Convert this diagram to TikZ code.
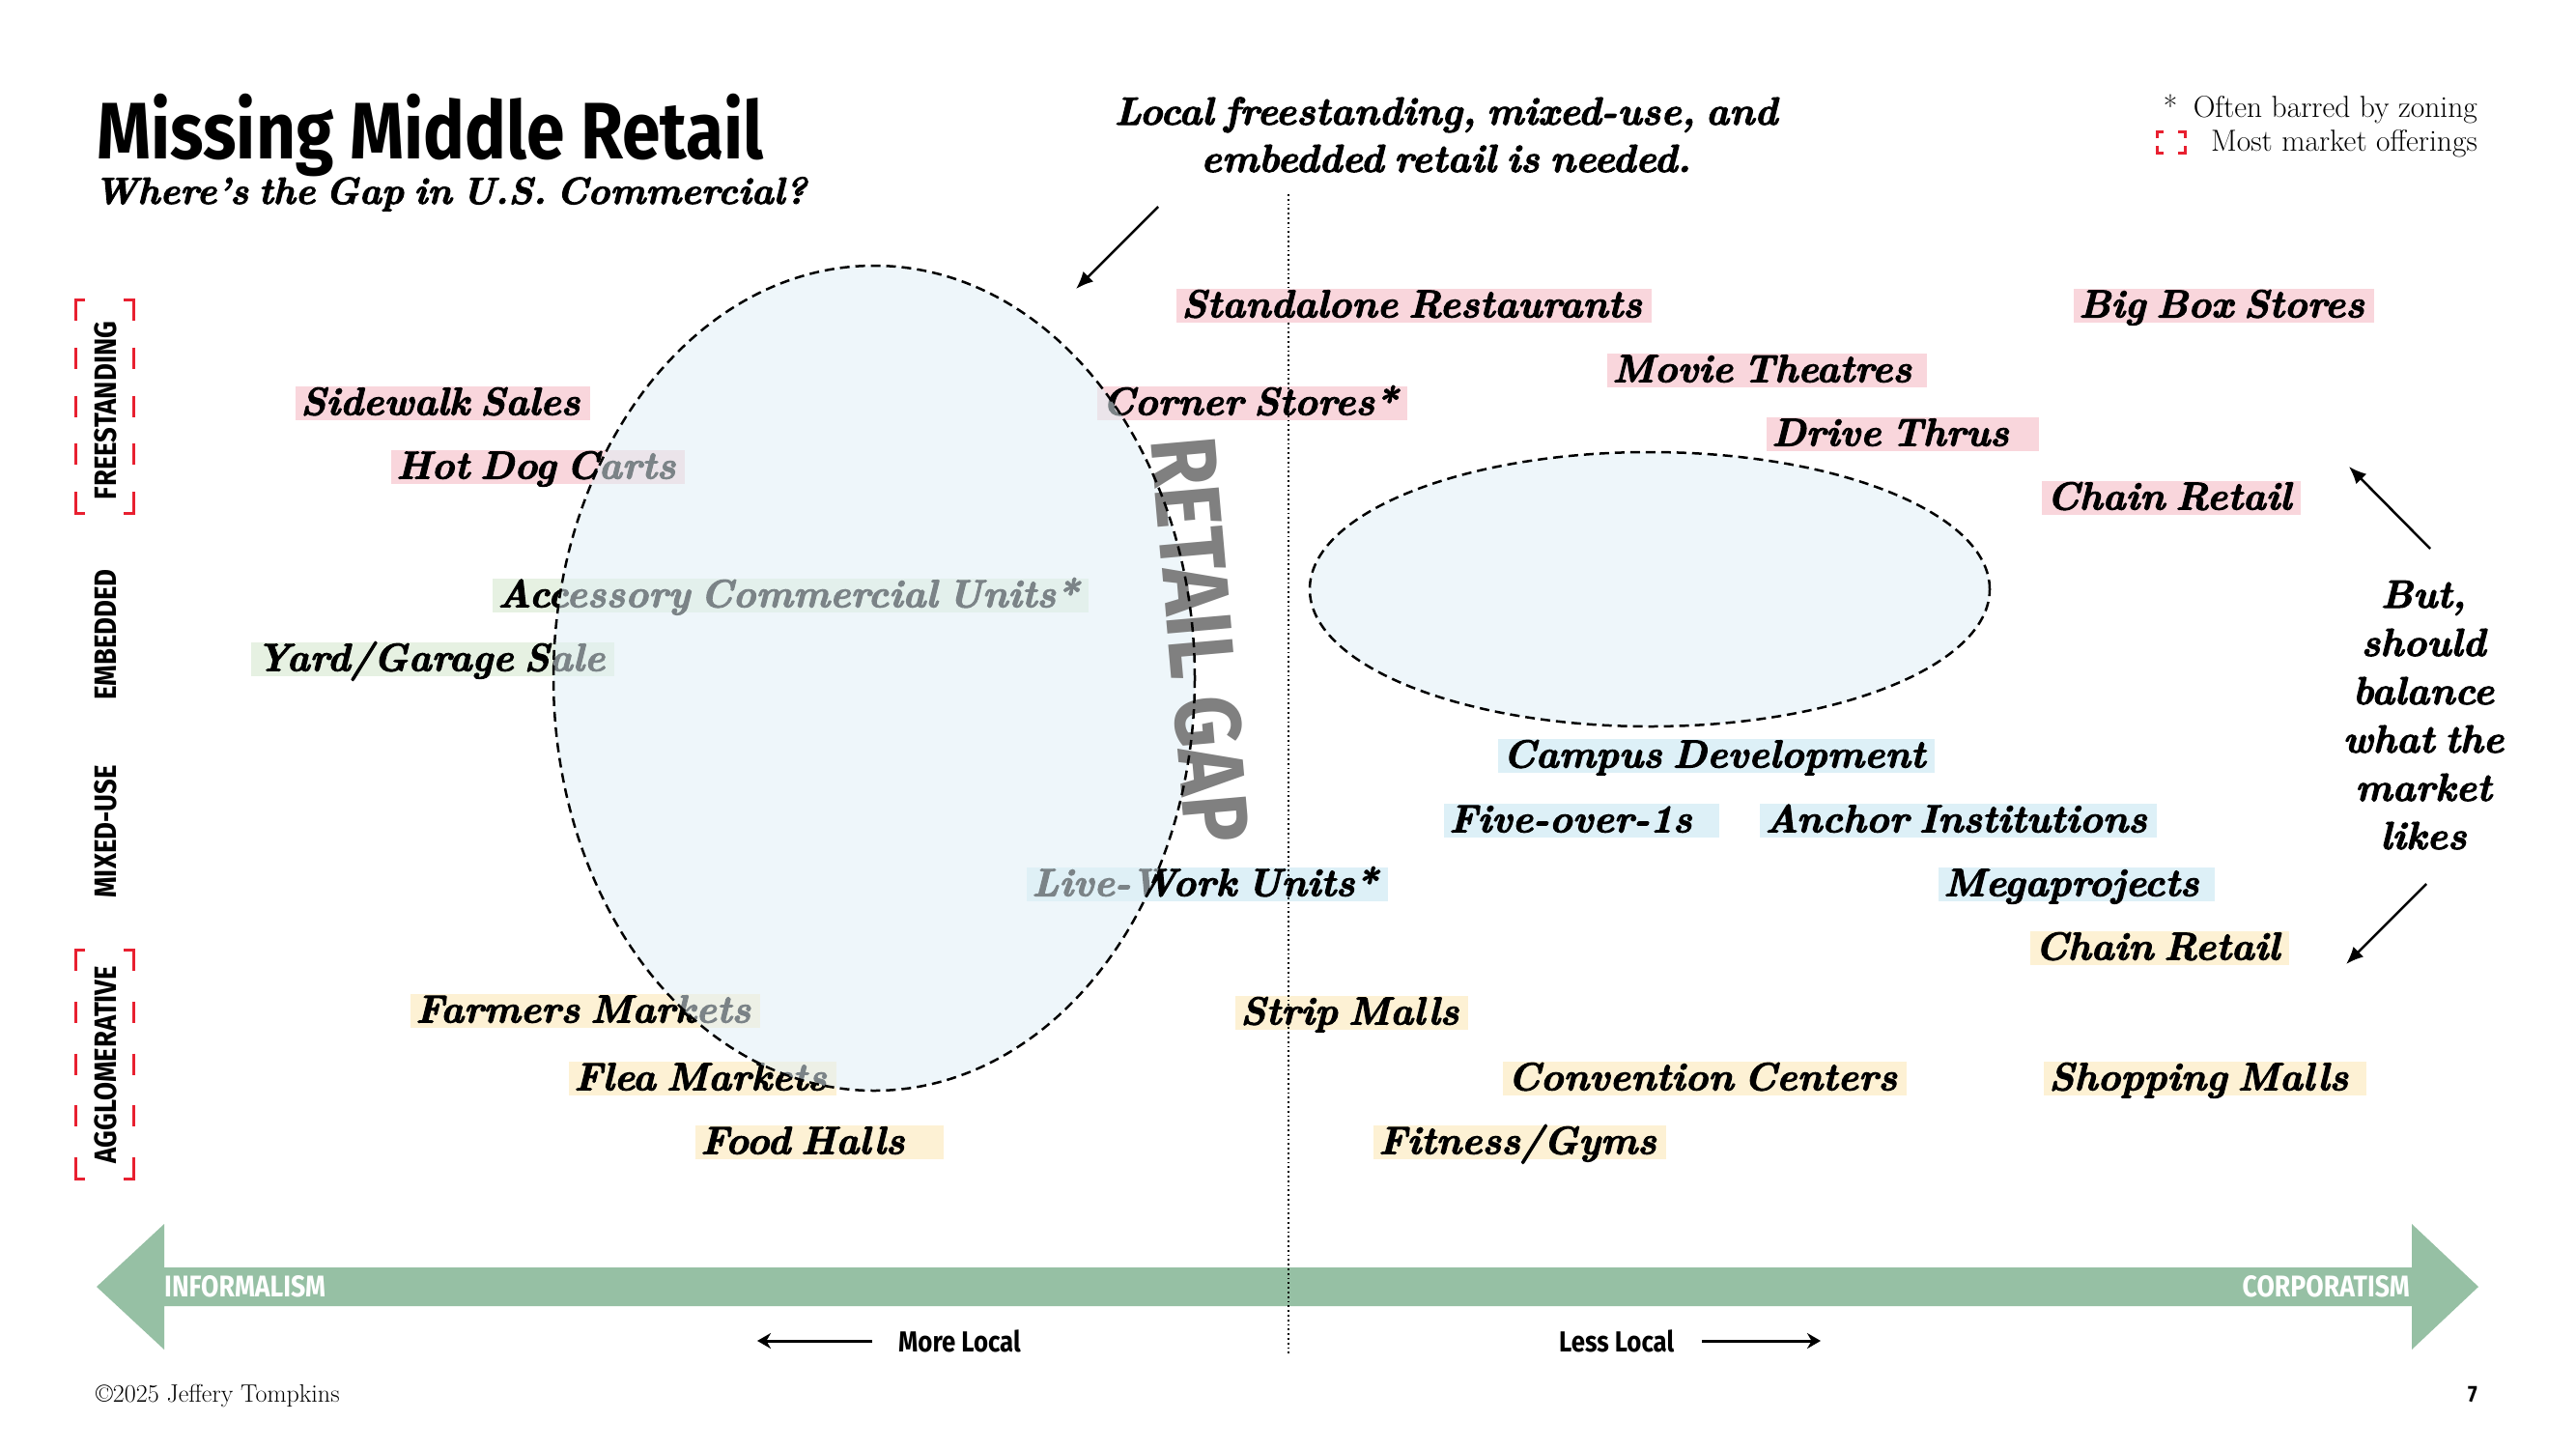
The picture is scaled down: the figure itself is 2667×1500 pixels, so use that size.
\documentclass[tikz,border=0pt]{standalone}
\usepackage{fontspec}
\usetikzlibrary{arrows.meta}
\newfontfamily\din{Fira Sans}[FakeStretch=0.86]
\newfontfamily\labfam{Latin Modern Roman}[FakeBold=2.5, WordSpace=0.65]
\definecolor{pinkhl}{RGB}{249,214,220}
\definecolor{greenhl}{RGB}{230,241,226}
\definecolor{bluehl}{RGB}{221,240,247}
\definecolor{yellowhl}{RGB}{253,241,212}
\definecolor{arrowgreen}{RGB}{150,192,164}
\definecolor{gapblue}{RGB}{225,240,246}
\definecolor{bracketred}{RGB}{232,32,48}
\definecolor{gaptext}{RGB}{128,128,128}
\newcommand\labfont{\fontsize{40.5}{48}\selectfont\labfam\bfseries\itshape}
\newcommand\redbrk[4]{%
  \pgfmathsetmacro\brkG{(#4-#2-110)/4}%
  \draw[brk, dash pattern=on 32pt off \brkG pt on 22pt off \brkG pt on 22pt off \brkG pt on 22pt off \brkG pt on 32pt off 0pt]
    (#1+10,#2) -- (#1,#2) -- (#1,#4) -- (#1+10,#4);
  \draw[brk, dash pattern=on 32pt off \brkG pt on 22pt off \brkG pt on 22pt off \brkG pt on 22pt off \brkG pt on 32pt off 0pt]
    (#3-10,#2) -- (#3,#2) -- (#3,#4) -- (#3-10,#4);
}
\tikzset{
  lab/.style={anchor=west, inner xsep=5pt, inner ysep=2pt, text height=28pt, text depth=3pt, font=\labfont, execute at end node={\kern5pt}},
  pk/.style={lab, fill=pinkhl},
  gr/.style={lab, fill=greenhl},
  bl/.style={lab, fill=bluehl},
  ye/.style={lab, fill=yellowhl},
  axislab/.style={rotate=90, inner sep=0pt, font=\fontsize{32}{38}\selectfont\din\bfseries},
  brk/.style={draw=bracketred, line width=3pt},
  gapell/.style={fill=gapblue, fill opacity=0.55},
  gapline/.style={draw=black, line width=2.5pt, dash pattern=on 10pt off 6pt},
  annarrow/.style={draw=black, line width=2.5pt, -{Latex[length=18pt,width=15pt]}},
  localarrow/.style={draw=black, line width=3pt, -{Stealth[length=14pt,width=16pt]}},
  divider/.style={draw=black, line width=1.8pt, dash pattern=on 1.8pt off 3pt},
  ann/.style={anchor=base, inner sep=0pt, font=\labfont},
}
\begin{document}
\begin{tikzpicture}[x=1pt,y=-1pt]
\useasboundingbox (0,0) rectangle (2667,1500);
\fill[white] (0,0) rectangle (2667,1500);

% title
\node[anchor=base west, inner sep=0pt, font=\fontsize{83}{90}\selectfont\din\bfseries] (title) at (100,164) {Missing Middle Retail};
\node[anchor=base west, inner sep=0pt, font=\fontsize{39}{44}\selectfont\labfam\bfseries\itshape] (subtitle) at (97,211) {Where’s the Gap in U.S. Commercial?};

% legend
\node[anchor=base east, inner sep=0pt, font=\fontsize{31.5}{36}\selectfont] (leg1) at (2565,121) {Often barred by zoning};
\node[anchor=base, inner sep=0pt, font=\fontsize{31.5}{36}\selectfont] (legstar) at (2247,121) {*};
\node[anchor=base east, inner sep=0pt, font=\fontsize{31.5}{36}\selectfont] (leg2) at (2565,156) {Most market offerings};
\draw[brk] (2233,143) -- (2233,136) -- (2240,136);
\draw[brk] (2255,136) -- (2262,136) -- (2262,143);
\draw[brk] (2233,151) -- (2233,158) -- (2240,158);
\draw[brk] (2255,158) -- (2262,158) -- (2262,151);

% top annotation
\node[ann] (topann1) at (1497,129) {Local freestanding, mixed-use, and};
\node[ann] (topann2) at (1497,178) {embedded retail is needed.};
\coordinate (ta1) at (1199,214);
\coordinate (ta2) at (1114,299);
\draw[annarrow] (ta1) -- (ta2);

% right annotation
\node[ann] (r1) at (2509,629) {But,};
\node[ann] (r2) at (2509,679) {should};
\node[ann] (r3) at (2509,729) {balance};
\node[ann] (r4) at (2509,779) {what the};
\node[ann] (r5) at (2509,829) {market};
\node[ann] (r6) at (2509,879) {likes};
\coordinate (ra1) at (2516,568);
\coordinate (ra2) at (2432,483);
\coordinate (rb1) at (2512,915);
\coordinate (rb2) at (2429,998);
\draw[annarrow] (ra1) -- (ra2);
\draw[annarrow] (rb1) -- (rb2);

% axis labels
\node[axislab] (ax1) at (109,425) {FREESTANDING};
\node[axislab] (ax2) at (109,657) {EMBEDDED};
\node[axislab] (ax3) at (109,861) {MIXED-USE};
\node[axislab] (ax4) at (109,1102) {AGGLOMERATIVE};
\redbrk{78}{310}{138}{531}
\redbrk{78}{983}{138}{1220}

% big arrow
\fill[arrowgreen] (100,1332) -- (170,1267) -- (170,1312) -- (2497,1312) -- (2497,1267) -- (2566,1332) -- (2497,1397) -- (2497,1352) -- (170,1352) -- (170,1397) -- cycle;
\node[anchor=west, inner sep=0pt, text=white, font=\fontsize{31}{36}\selectfont\din\bfseries] (informal) at (170,1332) {INFORMALISM};
\node[anchor=east, inner sep=0pt, text=white, font=\fontsize{31}{36}\selectfont\din\bfseries] (corporat) at (2495,1332) {CORPORATISM};

% labels
\node[pk] (sr) at (1218,316) {Standalone Restaurants};
\node[pk] (bb) at (2147,316) {Big Box Stores};
\node[pk] (mt) at (1664,383) {Movie Theatres\kern6pt};
\node[pk] (ss) at (306,417) {Sidewalk Sales};
\node[pk] (cs) at (1136,417) {Corner Stores*};
\node[pk] (dt) at (1829,449) {Drive Thrus\kern21pt};
\node[pk] (hd) at (405,483) {Hot Dog Carts};
\node[pk] (cr1) at (2114,515) {Chain Retail};
\node[gr] (acu) at (510,616) {Accessory Commercial Units*};
\node[gr] (yg) at (260,682) {Yard/Garage Sale};
\node[bl] (cd) at (1551,782) {Campus Development};
\node[bl] (fo) at (1495,849) {Five-over-1s\kern18pt};
\node[bl] (ai) at (1822,849) {Anchor Institutions};
\node[bl] (lw) at (1063,915) {Live-Work Units*};
\node[bl] (mp) at (2007,915) {Megaprojects\kern6pt};
\node[ye] (cr2) at (2102,981) {Chain Retail};
\node[ye] (fm) at (425,1046) {Farmers Markets};
\node[ye] (sm) at (1279,1048) {Strip Malls};
\node[ye] (flm) at (589,1116) {Flea Markets};
\node[ye] (cc) at (1556,1116) {Convention Centers};
\node[ye] (shm) at (2116,1116) {Shopping Malls\kern9pt};
\node[ye] (fh) at (720,1182) {Food Halls\kern30pt};
\node[ye] (fg) at (1422,1182) {Fitness/Gyms};

% dotted divider (hidden behind the Standalone Restaurants label)
\coordinate (dv1) at (1334,201);
\coordinate (dv2) at (1334,1403);
\draw[divider] (dv1) -- (dv1 |- sr.north);
\draw[divider] (dv2 |- sr.south) -- (dv2);

% gap ellipses
\path[gapell] (905,702) ellipse [x radius=332pt, y radius=427pt];
\path[gapell] (1708,610) ellipse [x radius=352pt, y radius=142pt];
\node[rotate=-85, inner sep=0pt, text=gaptext, font=\fontsize{96}{100}\selectfont\din\bfseries] (gap) at (1243,662) {RETAIL GAP};
\draw[gapline] (905,702) ellipse [x radius=332pt, y radius=427pt];
\draw[gapline] (1708,610) ellipse [x radius=352pt, y radius=142pt];

% locality
\node[anchor=west, inner sep=0pt, font=\fontsize{30}{36}\selectfont\din\bfseries] (ml) at (930,1388) {More Local};
\node[anchor=west, inner sep=0pt, font=\fontsize{30}{36}\selectfont\din\bfseries] (ll) at (1614,1388) {Less Local};
\coordinate (ml1) at (903,1388);
\coordinate (ml2) at (784,1388);
\coordinate (ll1) at (1762,1388);
\coordinate (ll2) at (1885,1388);
\draw[localarrow] (ml1) -- (ml2);
\draw[localarrow] (ll1) -- (ll2);

% footer
\node[anchor=base west, inner sep=0pt, font=\fontsize{26}{30}\selectfont] (copy) at (99,1451) {©2025 Jeffery Tompkins};
\node[anchor=base east, inner sep=0pt, font=\fontsize{24}{28}\selectfont\din\bfseries] (pg) at (2565,1451) {7};
\end{tikzpicture}
\end{document}
